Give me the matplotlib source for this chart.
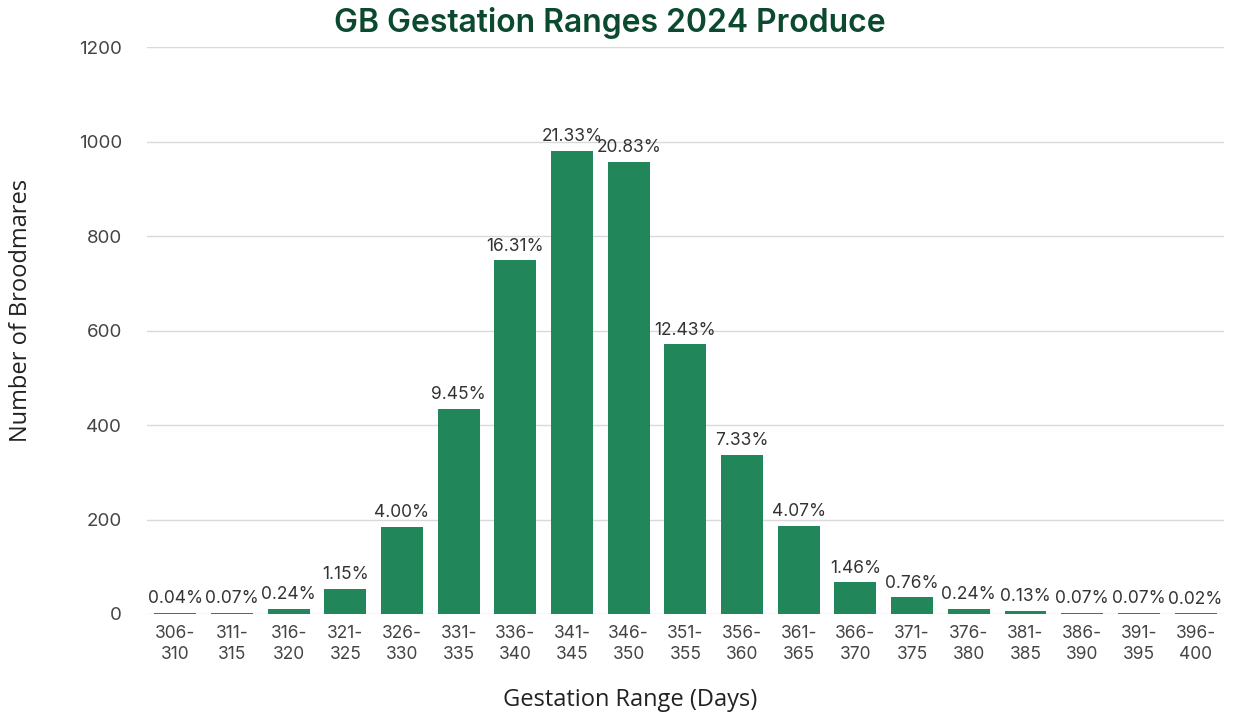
import matplotlib
matplotlib.use('Agg')
import matplotlib.pyplot as plt

ranges = ['306-\n310', '311-\n315', '316-\n320', '321-\n325', '326-\n330', '331-\n335',
          '336-\n340', '341-\n345', '346-\n350', '351-\n355', '356-\n360', '361-\n365',
          '366-\n370', '371-\n375', '376-\n380', '381-\n385', '386-\n390', '391-\n395',
          '396-\n400']
mares = [2, 3, 11, 53, 184, 434, 749, 980, 957, 571, 337, 187, 67, 35, 11, 6, 3, 3, 1]
pct_labels = ['0.04%', '0.07%', '0.24%', '1.15%', '4.00%', '9.45%', '16.31%', '21.33%',
              '20.83%', '12.43%', '7.33%', '4.07%', '1.46%', '0.76%', '0.24%', '0.13%',
              '0.07%', '0.07%', '0.02%']
yticks = [0, 200, 400, 600, 800, 1000, 1200]

BAR = '#21875A'
TITLE = '#0B4A2F'
TXT = '#333333'

fig = plt.figure(figsize=(12.35, 7.16), dpi=100)
ax = fig.add_axes([0.119, 0.1425, 0.872, 0.7915])

x = range(len(ranges))
ax.bar(x, mares, width=0.74, color=BAR, zorder=3)
for i, (v, lab) in enumerate(zip(mares, pct_labels)):
    ax.text(i, v + 12, lab, ha='center', va='bottom', fontsize=12.5,
            family='Inter', color=TXT, zorder=4)

ax.set_xlim(-0.5, len(ranges) - 0.5)
ax.set_ylim(0, 1200)
ax.set_yticks(yticks)
ax.set_xticks(list(x))
ax.set_xticklabels(ranges, fontsize=12.5, family='Inter', color='#444444', linespacing=1.3)
for t in ax.get_yticklabels():
    t.set_fontsize(13.5)
    t.set_family('Inter')
    t.set_color('#444444')
ax.tick_params(length=0, pad=8)
ax.tick_params(axis='y', pad=18)
ax.grid(axis='y', color='#D9D9D9', linewidth=1, zorder=0)
for s in ax.spines.values():
    s.set_visible(False)

fig.text(0.510, 0.022, 'Gestation Range (Days)', ha='center', va='center',
         fontsize=17, family='Open Sans', color='#222222')
fig.text(0.017, 0.567, 'Number of Broodmares', ha='center', va='center', rotation=90,
         fontsize=17, family='Open Sans', color='#222222')
fig.text(0.494, 0.968, 'GB Gestation Ranges 2024 Produce', ha='center', va='center',
         fontsize=23, fontweight='semibold', family='Inter', color=TITLE)

fig.savefig('out.png', dpi=100)
